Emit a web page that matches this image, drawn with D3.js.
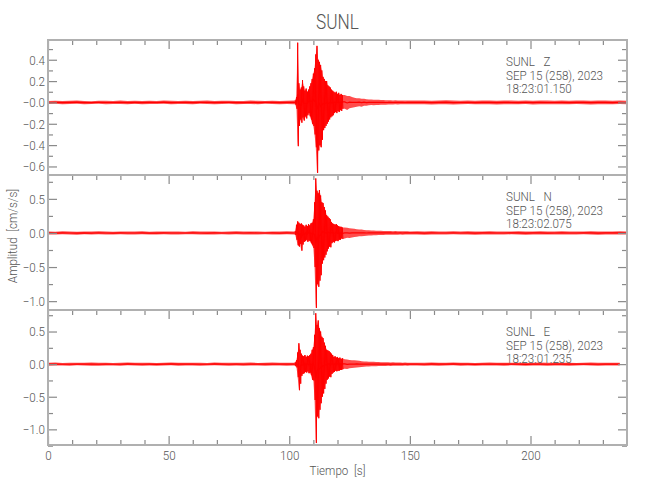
<!DOCTYPE html>
<html>
<head>
<meta charset="utf-8">
<script src="https://cdn.jsdelivr.net/npm/d3@7"></script>
<style>
  body { margin: 0; background: #fff; }
  svg text { font-family: Roboto, "DejaVu Sans", sans-serif; font-weight: 300; fill: #555; }
</style>
</head>
<body>
<div id="chart"></div>
<script>
// Seismogram SUNL, three components, acceleration traces (cm/s/s)
// Envelope peaks (upper / lower) at each sample time

// sample time grid: [start, end, step] in seconds
const timeSegments = [[0, 102, 3], [102.5, 122, 0.5], [123, 150, 1], [153, 240, 3]];

const zHi = [
  0.014,0.016,0.013,0.015,0.017,0.014,0.012,0.016,0.015,0.013,0.018,0.014,0.015,0.013,0.016,0.014,0.017,0.015,
  0.013,0.016,0.014,0.015,0.018,0.013,0.015,0.016,0.014,0.013,0.017,0.015,0.014,0.016,0.013,0.015,0.017,
  0.02,0.05,0.56,0.18,0.12,0.14,0.21,0.15,0.11,0.13,0.10,0.12,0.15,0.18,0.22,0.27,0.32,0.45,0.53,0.40,
  0.38,0.35,0.30,0.24,0.22,0.20,0.20,0.16,0.15,0.14,0.12,0.11,0.10,0.09,0.10,0.08,0.09,0.07,0.08,0.07,
  0.07,0.06,0.06,0.05,0.045,0.04,0.04,0.035,0.035,0.03,0.028,0.027,0.026,0.025,0.024,0.023,0.022,0.021,0.02,0.021,
  0.019,0.02,0.019,0.018,0.019,0.017,0.018,0.017,
  0.017,0.019,0.016,0.018,0.02,0.017,0.016,0.018,0.015,0.017,0.019,0.016,0.018,0.017,0.015,0.018,0.016,0.019,
  0.017,0.016,0.018,0.015,0.017,0.019,0.016,0.018,0.017,0.015,0.018,0.016
];
const zLo = [
  -0.015,-0.013,-0.016,-0.014,-0.012,-0.017,-0.015,-0.013,-0.016,-0.014,-0.015,-0.018,-0.013,-0.016,-0.014,-0.015,-0.013,-0.017,
  -0.014,-0.015,-0.016,-0.013,-0.015,-0.017,-0.014,-0.013,-0.016,-0.015,-0.014,-0.017,-0.013,-0.015,-0.016,-0.014,-0.016,
  -0.02,-0.06,-0.41,-0.22,-0.16,-0.19,-0.14,-0.17,-0.13,-0.15,-0.12,-0.10,-0.13,-0.16,-0.20,-0.22,-0.30,-0.42,-0.66,-0.45,
  -0.40,-0.42,-0.35,-0.26,-0.24,-0.22,-0.20,-0.18,-0.16,-0.14,-0.13,-0.12,-0.10,-0.09,-0.10,-0.08,-0.09,-0.07,-0.08,-0.06,
  -0.06,-0.07,-0.055,-0.05,-0.045,-0.04,-0.035,-0.04,-0.03,-0.032,-0.027,-0.025,-0.026,-0.023,-0.024,-0.022,-0.021,-0.022,-0.02,-0.019,
  -0.02,-0.018,-0.019,-0.018,-0.017,-0.018,-0.017,-0.016,
  -0.016,-0.018,-0.02,-0.017,-0.016,-0.019,-0.017,-0.015,-0.018,-0.016,-0.017,-0.019,-0.016,-0.018,-0.017,-0.015,-0.019,-0.016,
  -0.018,-0.017,-0.016,-0.018,-0.015,-0.017,-0.019,-0.016,-0.017,-0.018,-0.015,-0.017
];

const nHi = [
  0.022,0.019,0.024,0.021,0.018,0.023,0.02,0.025,0.021,0.019,0.023,0.02,0.022,0.024,0.019,0.021,0.023,0.02,
  0.022,0.018,0.024,0.021,0.02,0.023,0.019,0.022,0.025,0.02,0.021,0.023,0.019,0.022,0.02,0.024,0.021,
  0.03,0.12,0.17,0.15,0.13,0.14,0.12,0.11,0.09,0.12,0.10,0.13,0.11,0.14,0.15,0.20,0.45,0.80,0.62,0.58,
  0.63,0.55,0.45,0.44,0.38,0.33,0.26,0.24,0.22,0.20,0.16,0.14,0.13,0.12,0.13,0.11,0.10,0.09,0.09,0.08,
  0.08,0.075,0.07,0.065,0.06,0.055,0.05,0.05,0.045,0.04,0.04,0.037,0.035,0.034,0.032,0.031,0.03,0.029,0.028,0.027,
  0.026,0.027,0.025,0.026,0.024,0.025,0.024,0.023,
  0.024,0.022,0.026,0.023,0.021,0.025,0.022,0.024,0.02,0.023,0.025,0.021,0.023,0.022,0.024,0.02,0.023,0.025,
  0.021,0.022,0.024,0.023,0.02,0.022,0.025,0.021,0.023,0.022,0.024,0.021
];
const nLo = [
  -0.021,-0.024,-0.019,-0.022,-0.025,-0.02,-0.023,-0.019,-0.022,-0.024,-0.02,-0.021,-0.023,-0.019,-0.022,-0.024,-0.02,-0.021,
  -0.023,-0.02,-0.019,-0.022,-0.024,-0.021,-0.02,-0.023,-0.019,-0.022,-0.021,-0.024,-0.02,-0.022,-0.023,-0.019,-0.022,
  -0.03,-0.10,-0.18,-0.20,-0.16,-0.26,-0.17,-0.13,-0.12,-0.10,-0.13,-0.11,-0.12,-0.15,-0.18,-0.22,-0.50,-1.10,-0.75,-0.79,
  -0.70,-0.62,-0.45,-0.40,-0.36,-0.32,-0.27,-0.23,-0.20,-0.21,-0.15,-0.13,-0.14,-0.12,-0.11,-0.12,-0.10,-0.10,-0.08,-0.09,
  -0.08,-0.07,-0.075,-0.065,-0.06,-0.055,-0.05,-0.048,-0.045,-0.042,-0.038,-0.036,-0.035,-0.033,-0.031,-0.03,-0.029,-0.028,-0.027,-0.026,
  -0.027,-0.025,-0.026,-0.024,-0.025,-0.023,-0.024,-0.023,
  -0.023,-0.025,-0.021,-0.024,-0.022,-0.02,-0.024,-0.022,-0.025,-0.021,-0.023,-0.022,-0.024,-0.02,-0.023,-0.025,-0.021,-0.022,
  -0.024,-0.023,-0.021,-0.024,-0.022,-0.02,-0.023,-0.025,-0.022,-0.021,-0.023,-0.022
];

const eHi = [
  0.021,0.024,0.019,0.022,0.02,0.023,0.025,0.02,0.022,0.019,0.021,0.024,0.022,0.02,0.023,0.019,0.022,0.025,
  0.021,0.02,0.023,0.021,0.019,0.024,0.022,0.02,0.023,0.021,0.025,0.019,0.022,0.024,0.02,0.021,0.023,
  0.03,0.06,0.18,0.32,0.22,0.16,0.13,0.12,0.14,0.11,0.13,0.12,0.14,0.16,0.22,0.26,0.45,0.78,0.60,0.67,
  0.55,0.50,0.42,0.40,0.33,0.28,0.22,0.21,0.20,0.18,0.16,0.14,0.11,0.12,0.10,0.11,0.09,0.10,0.08,0.09,
  0.075,0.07,0.065,0.06,0.058,0.055,0.05,0.045,0.042,0.04,0.038,0.036,0.035,0.033,0.031,0.03,0.029,0.028,0.027,0.026,
  0.027,0.025,0.024,0.025,0.023,0.024,0.023,0.022,
  0.023,0.021,0.025,0.022,0.02,0.024,0.021,0.023,0.019,0.022,0.024,0.02,0.022,0.021,0.023,0.019,0.022,0.024,
  0.02,0.021,0.023,0.022,0.019,0.021,0.024,0.02,0.022,0.021,0.023
];
const eLo = [
  -0.023,-0.02,-0.022,-0.025,-0.019,-0.021,-0.023,-0.024,-0.02,-0.022,-0.024,-0.019,-0.021,-0.023,-0.02,-0.025,-0.022,-0.019,
  -0.023,-0.021,-0.02,-0.024,-0.022,-0.019,-0.021,-0.023,-0.02,-0.025,-0.022,-0.021,-0.024,-0.02,-0.022,-0.023,-0.021,
  -0.03,-0.05,-0.20,-0.40,-0.30,-0.18,-0.15,-0.14,-0.12,-0.13,-0.11,-0.14,-0.13,-0.17,-0.24,-0.25,-0.55,-1.21,-0.80,-0.83,
  -0.70,-0.60,-0.50,-0.45,-0.38,-0.30,-0.24,-0.22,-0.19,-0.20,-0.15,-0.13,-0.12,-0.10,-0.11,-0.10,-0.10,-0.09,-0.09,-0.08,
  -0.07,-0.075,-0.065,-0.06,-0.055,-0.05,-0.048,-0.045,-0.04,-0.038,-0.036,-0.034,-0.033,-0.031,-0.03,-0.029,-0.028,-0.027,-0.026,-0.027,
  -0.025,-0.026,-0.024,-0.023,-0.024,-0.022,-0.023,-0.022,
  -0.022,-0.024,-0.02,-0.023,-0.021,-0.019,-0.023,-0.021,-0.024,-0.02,-0.022,-0.021,-0.023,-0.019,-0.022,-0.024,-0.02,-0.021,
  -0.023,-0.022,-0.02,-0.023,-0.021,-0.019,-0.022,-0.024,-0.021,-0.02,-0.022
];

// channel header texts
const stationName = "SUNL";
const components = ["Z", "N", "E"];
const dateLabel = "SEP 15 (258), 2023";
const startTimes = ["18:23:01.150", "18:23:02.075", "18:23:01.235"];

// axis ranges and ticks
const xMajorTicks = [0, 50, 100, 150, 200];
const xMinorTicks = [10, 20, 30, 40, 60, 70, 80, 90, 110, 120, 130, 140, 160, 170, 180, 190, 210, 220, 230];
const yDomains = [[-0.68, 0.585], [-1.13, 0.85], [-1.24, 0.83]];
const yMajorTicks = [
  [0.4, 0.2, 0, -0.2, -0.4, -0.6],
  [0.5, 0, -0.5, -1.0],
  [0.5, 0, -0.5, -1.0]
];
const yTickLabels = [
  ["0.4", "0.2", "\u22120.0", "\u22120.2", "\u22120.4", "\u22120.6"],
  ["0.5", "0.0", "\u22120.5", "\u22121.0"],
  ["0.5", "0.0", "\u22120.5", "\u22121.0"]
];
const yMinorTicks = [
  [0.5, 0.3, 0.1, -0.1, -0.3, -0.5],
  [0.75, 0.25, -0.25, -0.75],
  [0.75, 0.25, -0.25, -0.75, -1.25]
];

const width = 650;
const height = 500;
const left = 48, right = 627;
const panelTops = [40, 175, 310];
const panelH = 135;
const burst = [102.5, 122];   // densely sampled part, drawn as a swinging trace

const sampleTimes = timeSegments.flatMap(([a, b, s]) => d3.range(a, b + s / 2, s));

const channels = [[zHi, zLo], [nHi, nLo], [eHi, eLo]].map(([hi, lo]) =>
  hi.map((v, i) => ({t: sampleTimes[i], hi: v, lo: lo[i]})));

const svg = d3.select("#chart").append("svg")
  .attr("width", width)
  .attr("height", height);

const x = d3.scaleLinear().domain([0, 240]).range([left, right]);

const axisColor = "#b0b0b0";
const tickColor = "#8a8a8a";

channels.forEach((data, p) => {
  const top = panelTops[p];
  const y = d3.scaleLinear().domain(yDomains[p]).range([top + panelH, top]);

  svg.append("clipPath").attr("id", "clip" + p)
    .append("rect").attr("x", left).attr("y", top).attr("width", right - left).attr("height", panelH);

  const g = svg.append("g").attr("clip-path", `url(#clip${p})`);

  // envelope band
  g.append("path")
    .datum(data)
    .attr("d", d3.area().x(d => x(d.t)).y0(d => y(d.lo)).y1(d => y(d.hi)))
    .attr("fill", "#ff2020")
    .attr("opacity", 0.8);

  // trace swinging between upper and lower peaks in the strong-motion part
  const strong = data.filter(d => d.t >= burst[0] && d.t <= burst[1]);
  const pts = [];
  strong.forEach((d, i) => {
    const next = i < strong.length - 1 ? strong[i + 1].t : d.t + 0.5;
    pts.push([d.t, d.hi]);
    pts.push([(d.t + next) / 2, d.lo]);
  });
  g.append("path")
    .datum(pts)
    .attr("d", d3.line().x(d => x(d[0])).y(d => y(d[1])))
    .attr("fill", "none")
    .attr("stroke", "#ff0000")
    .attr("stroke-width", 1);

  // centre line of the trace
  g.append("path")
    .datum(data)
    .attr("d", d3.line().x(d => x(d.t)).y(d => y((d.hi + d.lo) / 2)))
    .attr("fill", "none")
    .attr("stroke", "#ff0000")
    .attr("stroke-width", 1.2);

  // ticks: top (inward)
  const topAx = svg.append("g").attr("transform", `translate(0,${top})`);
  topAx.call(d3.axisTop(x).tickValues(xMajorTicks).tickSize(-9).tickFormat(""));
  topAx.append("g").call(d3.axisTop(x).tickValues(xMinorTicks).tickSize(-5).tickFormat(""));

  // bottom ticks with labels only on the last panel
  if (p === 2) {
    const botAx = svg.append("g").attr("transform", `translate(0,${top + panelH})`);
    botAx.call(d3.axisBottom(x).tickValues(xMajorTicks).tickSize(-9).tickPadding(5));
    botAx.append("g").call(d3.axisBottom(x).tickValues(xMinorTicks).tickSize(-5).tickFormat(""));
  }

  const leftAx = svg.append("g").attr("transform", `translate(${left},0)`);
  leftAx.call(d3.axisLeft(y).tickValues(yMajorTicks[p]).tickSize(-9).tickPadding(3)
    .tickFormat((d, i) => yTickLabels[p][i]));
  leftAx.append("g").call(d3.axisLeft(y).tickValues(yMinorTicks[p]).tickSize(-5).tickFormat(""));

  const rightAx = svg.append("g").attr("transform", `translate(${right},0)`);
  rightAx.call(d3.axisRight(y).tickValues(yMajorTicks[p]).tickSize(-9).tickFormat(""));
  rightAx.append("g").call(d3.axisRight(y).tickValues(yMinorTicks[p]).tickSize(-5).tickFormat(""));

  // frame
  svg.append("rect")
    .attr("x", left).attr("y", top)
    .attr("width", right - left).attr("height", panelH)
    .attr("fill", "none")
    .attr("stroke", axisColor)
    .attr("stroke-width", 2);

  // channel header, one text per line
  [`${stationName}   ${components[p]}`, dateLabel, startTimes[p]].forEach((s, i) => {
    svg.append("text")
      .attr("x", 506)
      .attr("y", top + 26 + i * 13.5)
      .style("font-size", "12px")
      .style("white-space", "pre")
      .text(s);
  });
});

svg.selectAll(".domain").remove();
svg.selectAll(".tick line").attr("stroke", tickColor).attr("stroke-width", 1.2);
svg.selectAll(".tick text")
  .style("font-size", "13.5px")
  .attr("fill", "#555");

// title and axis titles
svg.append("text")
  .attr("x", (left + right) / 2)
  .attr("y", 29)
  .attr("text-anchor", "middle")
  .style("font-size", "20px")
  .text(stationName);

svg.append("text")
  .attr("x", (left + right) / 2)
  .attr("y", 475)
  .attr("text-anchor", "middle")
  .style("font-size", "13.5px")
  .style("white-space", "pre")
  .text("Tiempo  [s]");

svg.append("text")
  .attr("transform", "rotate(-90)")
  .attr("x", -236)
  .attr("y", 17)
  .attr("text-anchor", "middle")
  .style("font-size", "13.5px")
  .style("white-space", "pre")
  .text("Amplitud  [cm/s/s]");

// squeeze all text horizontally to the narrow plotter lettering
svg.selectAll("text").each(function() {
  const el = this;
  const squeeze = parseFloat(el.style.fontSize) === 12 ? 0.97 : 0.86;
  const w = el.getComputedTextLength();
  d3.select(el).attr("textLength", w * squeeze).attr("lengthAdjust", "spacingAndGlyphs");
});
</script>
</body>
</html>
